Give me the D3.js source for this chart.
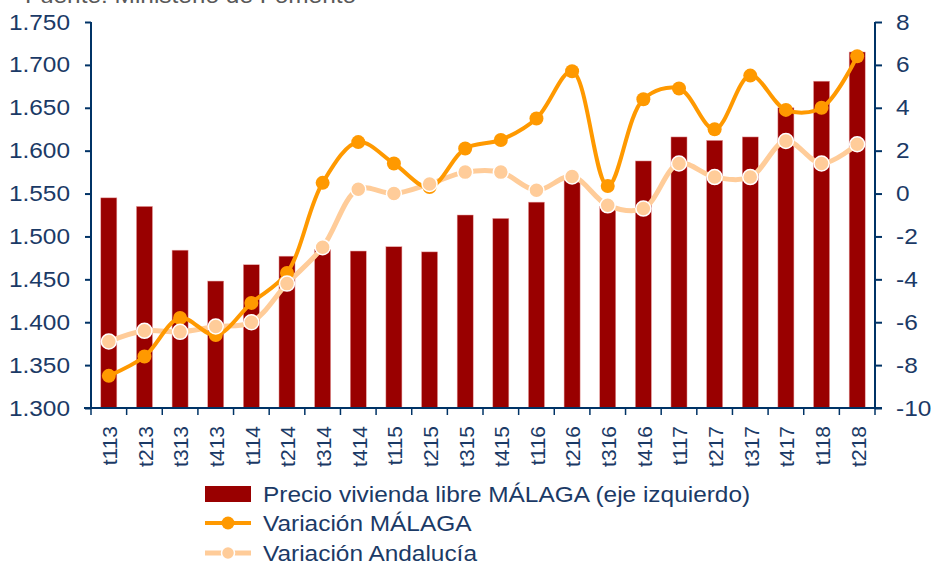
<!DOCTYPE html>
<html><head><meta charset="utf-8">
<script src="https://cdn.jsdelivr.net/npm/d3@7"></script>
<style>body{margin:0;background:#fff}svg{display:block;font-family:"Liberation Sans",Arial,sans-serif}</style>
</head><body><svg id="c" width="931" height="564"></svg>
<script>
const categories = ["t113","t213","t313","t413","t114","t214","t314","t414","t115","t215","t315","t415","t116","t216","t316","t416","t117","t217","t317","t417","t118","t218"];
const precioMalaga = [1545,1535,1484,1448,1467,1477,1485,1483,1488,1482,1525,1521,1540,1567,1535,1588,1616,1612,1616,1650,1681,1715];
const variacionMalaga = [-8.5,-7.6,-5.8,-6.6,-5.1,-3.7,0.5,2.4,1.4,0.3,2.1,2.5,3.5,5.7,0.35,4.4,4.9,3.0,5.5,3.9,4.0,6.4];
const variacionAndalucia = [-6.9,-6.4,-6.45,-6.2,-6.0,-4.2,-2.5,0.2,0.0,0.45,1.0,1.0,0.15,0.8,-0.55,-0.7,1.4,0.77,0.77,2.45,1.4,2.3];
const leftTicks = [1300,1350,1400,1450,1500,1550,1600,1650,1700,1750];
const rightTicks = [-10,-8,-6,-4,-2,0,2,4,6,8];
const legendLabels = ["Precio vivienda libre MÁLAGA (eje izquierdo)","Variación MÁLAGA","Variación Andalucía"];
const sourceText = "Fuente: Ministerio de Fomento";

const svg = d3.select("#c");
const L = 91, R = 875, T = 22, B = 408;
const SX = 1.11;
const navy = "#003366", txt = "#1b3a66";
const x = d3.scaleBand().domain(categories).range([L, R]).paddingInner(0.55).paddingOuter(0.275);
const xb = d3.scaleBand().domain(categories).range([L, R]);
const yL = d3.scaleLinear().domain([1300,1750]).range([B, T]);
const yR = d3.scaleLinear().domain([-10,8]).range([B, T]);

svg.append("text").attr("transform",`translate(25,3) scale(${SX},1)`).attr("fill","#595959").style("font-size","22px").text(sourceText);

// bars
svg.append("g").selectAll("rect").data(precioMalaga).join("rect")
  .attr("x",(d,i)=>x(categories[i])).attr("width",x.bandwidth())
  .attr("y",d=>yL(d)).attr("height",d=>B-yL(d))
  .attr("fill","#990000").attr("stroke","#e8a0a0").attr("stroke-width",0.5);

// axes
const gL = svg.append("g").attr("transform",`translate(${L},0)`)
  .call(d3.axisLeft(yL).tickValues(leftTicks).tickSize(6)
  .tickFormat(d=>d3.format(".3f")(d/1000)));
const gR = svg.append("g").attr("transform",`translate(${R},0)`)
  .call(d3.axisRight(yR).tickValues(rightTicks).tickSize(7).tickFormat(d=>String(d)));
[gL,gR].forEach(g=>{
  g.select(".domain").attr("stroke",navy).attr("stroke-width",2).attr("d",`M0,${T}V${B}`);
  g.selectAll(".tick line").attr("stroke",navy).attr("stroke-width",2);
  g.selectAll(".tick text").attr("fill",txt).style("font-size","22px")
   .attr("x", g===gL ? -21/SX : 21/SX).attr("transform",`scale(${SX},1)`);
});
// bottom axis
const gB = svg.append("g");
gB.append("line").attr("x1",L-7).attr("x2",R+7).attr("y1",B).attr("y2",B).attr("stroke",navy).attr("stroke-width",2);
gB.selectAll("line.t").data(d3.range(categories.length+1)).join("line").attr("class","t")
  .attr("x1",i=>L+i*xb.step()).attr("x2",i=>L+i*xb.step()).attr("y1",B).attr("y2",B+7)
  .attr("stroke",navy).attr("stroke-width",1.5);
gB.selectAll("text").data(categories).join("text")
  .attr("transform",d=>`translate(${xb(d)+xb.bandwidth()/2+1},426) rotate(-90)`)
  .attr("text-anchor","end").attr("dy","0.35em").attr("fill",txt).style("font-size","21px").text(d=>d);

const cx = i => xb(categories[i]) + xb.bandwidth()/2;
const line = d3.line().x((d,i)=>cx(i)).y(d=>yR(d)).curve(d3.curveCatmullRom.alpha(0.5));

svg.append("path").attr("d",line(variacionAndalucia)).attr("fill","none").attr("stroke","#ffcc99").attr("stroke-width",5);
svg.append("path").attr("d",line(variacionMalaga)).attr("fill","none").attr("stroke","#ff9900").attr("stroke-width",4);
svg.append("g").selectAll("circle").data(variacionMalaga).join("circle")
  .attr("cx",(d,i)=>cx(i)).attr("cy",d=>yR(d)).attr("r",7).attr("fill","#ff9900");
svg.append("g").selectAll("circle").data(variacionAndalucia).join("circle")
  .attr("cx",(d,i)=>cx(i)).attr("cy",d=>yR(d)).attr("r",7.5).attr("fill","#ffcc99").attr("stroke","#fff").attr("stroke-width",1.5);

// legend
const lg = svg.append("g");
const ly = [494,523,553];
lg.append("rect").attr("x",205).attr("y",ly[0]-8).attr("width",46).attr("height",16).attr("fill","#990000");
lg.append("line").attr("x1",205).attr("x2",251).attr("y1",ly[1]).attr("y2",ly[1]).attr("stroke","#ff9900").attr("stroke-width",4);
lg.append("circle").attr("cx",228).attr("cy",ly[1]).attr("r",6.5).attr("fill","#ff9900");
lg.append("line").attr("x1",205).attr("x2",251).attr("y1",ly[2]).attr("y2",ly[2]).attr("stroke","#ffcc99").attr("stroke-width",5);
lg.append("circle").attr("cx",228).attr("cy",ly[2]).attr("r",6.5).attr("fill","#ffcc99").attr("stroke","#fff").attr("stroke-width",1.5);
lg.selectAll("text").data(legendLabels).join("text")
  .attr("transform",(d,i)=>`translate(263,${ly[i]}) scale(${SX},1)`).attr("dy","0.35em")
  .attr("fill",txt).style("font-size","22px").text(d=>d);
</script></body></html>
